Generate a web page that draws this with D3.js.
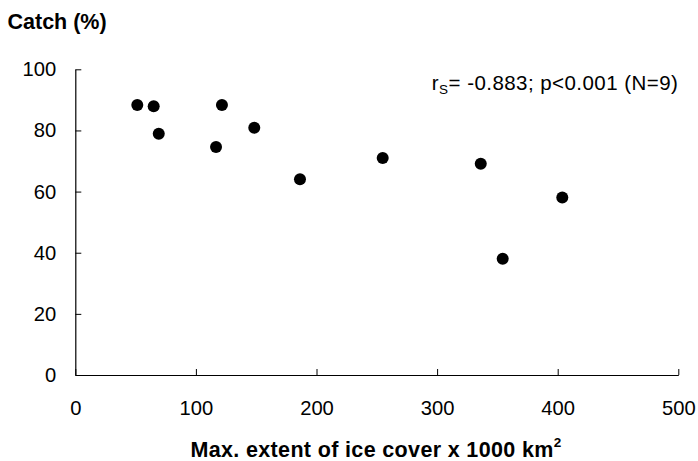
<!DOCTYPE html>
<html>
<head>
<meta charset="utf-8">
<script src="https://cdn.jsdelivr.net/npm/d3@7"></script>
<style>
  html, body { margin: 0; padding: 0; background: #fff; }
  svg { display: block; }
  text { font-family: "Liberation Sans", Arial, sans-serif; fill: #000; }
</style>
</head>
<body>
<svg id="chart" width="698" height="461"></svg>
<script>
// Maximum ice extent (x 1000 km²) and catch (%)
const iceExtent = [51.4, 65.0, 69.2, 116.7, 121.6, 148.4, 186.3, 254.9, 336.2, 354.4, 403.8];
const catchPct  = [88.3, 87.9, 78.9, 74.6, 88.3, 80.9, 64.0, 71.0, 69.1, 38.0, 58.1];
const xTicks = [0, 100, 200, 300, 400, 500];
const yTicks = [0, 20, 40, 60, 80, 100];
const statText = { r: "r", sub: "S", rest: "= -0.883; p<0.001 (N=9)" };

const svg = d3.select("#chart");
const plot = { left: 75.3, right: 678.3, top: 69.3, bottom: 375 };

const x = d3.scaleLinear().domain([0, 500]).range([plot.left, plot.right]);
const y = d3.scaleLinear().domain([0, 100]).range([plot.bottom, plot.top]);

// Axes with ticks pointing into the plot
const xAxis = d3.axisBottom(x).tickValues(xTicks).tickSizeInner(-6).tickSizeOuter(0).tickPadding(26);
const yAxis = d3.axisLeft(y).tickValues(yTicks).tickSizeInner(-6).tickSizeOuter(0).tickPadding(19);

const gx = svg.append("g").attr("transform", `translate(0,${plot.bottom})`).call(xAxis);
const gy = svg.append("g").attr("transform", `translate(${plot.left},0)`).call(yAxis);

[gx, gy].forEach(g => {
  g.select(".domain").attr("stroke", "#000").attr("stroke-width", 1.2);
  g.selectAll(".tick line").attr("stroke", "#000").attr("stroke-width", 1);
  g.selectAll(".tick text")
    .attr("font-family", "'Liberation Sans', Arial, sans-serif")
    .attr("font-size", 20.2)
    .attr("fill", "#000");
});

// Points
svg.append("g").selectAll("circle")
  .data(iceExtent.map((v, i) => [v, catchPct[i]]))
  .join("circle")
  .attr("cx", d => x(d[0]))
  .attr("cy", d => y(d[1]))
  .attr("r", 6)
  .attr("fill", "#000");

// Axis titles
svg.append("text")
  .attr("x", 7.5).attr("y", 28.5)
  .attr("font-size", 21.5).attr("font-weight", "bold")
  .text("Catch (%)");

const xt = svg.append("text")
  .attr("x", 376).attr("y", 457)
  .attr("text-anchor", "middle")
  .attr("font-size", 21.5).attr("font-weight", "bold")
  .attr("letter-spacing", 0.35);
xt.append("tspan").text("Max. extent of ice cover x 1000 km");
xt.append("tspan").attr("font-size", 13.5).attr("dy", -10).text("2");

// Spearman statistic
const st = svg.append("text")
  .attr("x", plot.right).attr("y", 90)
  .attr("text-anchor", "end")
  .attr("font-size", 20.5)
  .attr("letter-spacing", 0.45);
st.append("tspan").text(statText.r);
st.append("tspan").attr("font-size", 13.5).attr("dy", 4).text(statText.sub);
st.append("tspan").attr("dy", -4).text(statText.rest);
</script>
</body>
</html>
